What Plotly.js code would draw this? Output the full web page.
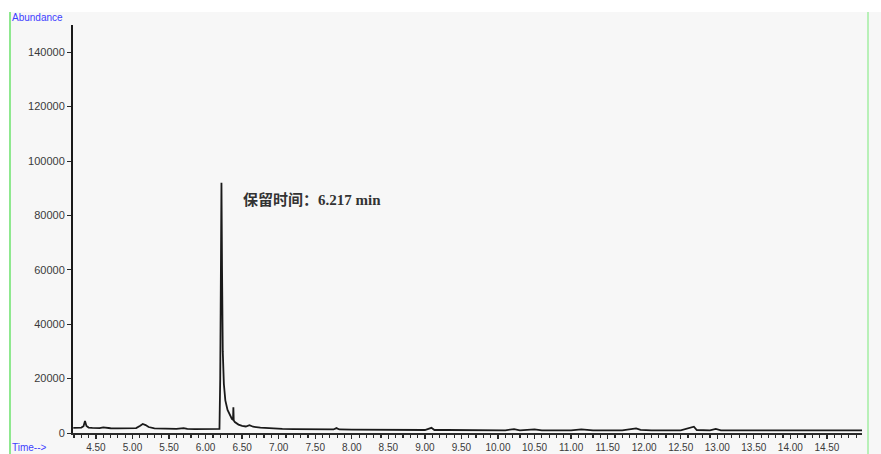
<!DOCTYPE html>
<html>
<head>
<meta charset="utf-8">
<script src="https://cdn.plot.ly/plotly-3.0.1.min.js"></script>
<style>html,body{margin:0;padding:0;background:#fff;}#chart{width:881px;height:454px;}</style>
</head>
<body>
<div id="chart"></div>
<script>
// Retention time (min)
const timeMin = [
  4.19, 4.25, 4.30, 4.33, 4.35, 4.37, 4.40, 4.45, 4.50, 4.55, 4.60, 4.65, 4.70, 4.80, 4.90,
  5.00, 5.05, 5.10, 5.14, 5.18, 5.22, 5.30, 5.40, 5.50, 5.60, 5.70, 5.75, 5.85, 5.95, 6.05,
  6.15, 6.19, 6.20, 6.21, 6.217, 6.225, 6.235, 6.25, 6.27, 6.30, 6.33, 6.36, 6.375, 6.38, 6.385,
  6.40, 6.45, 6.50, 6.55, 6.60, 6.65, 6.75, 6.85, 6.95, 7.05, 7.20, 7.40, 7.60, 7.75, 7.79,
  7.83, 8.00, 8.20, 8.40, 8.60, 8.80, 9.00, 9.09, 9.13, 9.30, 9.50, 9.70, 9.90, 10.10, 10.22,
  10.30, 10.50, 10.60, 10.80, 11.00, 11.14, 11.30, 11.50, 11.70, 11.89, 11.95, 12.10, 12.30, 12.50, 12.68,
  12.72, 12.90, 12.98, 13.05, 13.20, 13.40, 13.60, 13.80, 14.00, 14.20, 14.40, 14.60, 14.80, 14.98
];
// Abundance
const abundance = [
  1900, 1950, 2000, 2500, 4400, 2600, 2000, 1900, 1850, 1800, 2100, 1800, 1750, 1700, 1700,
  1700, 1800, 2600, 3300, 2900, 2200, 1700, 1600, 1550, 1500, 1800, 1500, 1450, 1400, 1400,
  1400, 1500, 20000, 80000, 92000, 60000, 30000, 18000, 12000, 8500, 6500, 5200, 4800, 9500, 4600,
  4000, 3100, 2600, 2400, 2900, 2300, 2000, 1800, 1600, 1500, 1400, 1350, 1300, 1300, 1800,
  1300, 1250, 1200, 1200, 1150, 1150, 1100, 1900, 1100, 1100, 1050, 1050, 1000, 1000, 1400,
  1000, 1300, 1000, 1000, 1000, 1300, 1000, 1000, 1000, 1700, 1150, 1000, 1000, 1000, 2300,
  1100, 1000, 1500, 1000, 1000, 1000, 1000, 1000, 1000, 1000, 1000, 1000, 1000, 1000
];
const yTickVals = [0, 20000, 40000, 60000, 80000, 100000, 120000, 140000];
const yTickText = ["0", "20000", "40000", "60000", "80000", "100000", "120000", "140000"];
const peakLabel = "<b>保留时间：6.217 min</b>";

const trace = {
  x: timeMin, y: abundance, type: 'scatter', mode: 'lines',
  line: {color: '#1a1a1a', width: 1.8}, hoverinfo: 'skip'
};

const pxX = p => (p - 73) / 789;
const pxY = p => (433 - p) / 408;

const layout = {
  width: 881, height: 454,
  margin: {l: 73, r: 19, t: 25, b: 21, pad: 0},
  paper_bgcolor: '#ffffff',
  plot_bgcolor: 'rgba(0,0,0,0)',
  showlegend: false,
  font: {family: 'Liberation Sans, Arial, sans-serif', color: '#3a3a3a'},
  xaxis: {
    range: [4.186, 14.98], showgrid: false, zeroline: false,
    showline: true, linecolor: '#2a2a2a', linewidth: 2,
    ticks: 'outside', ticklen: 4, tickwidth: 1.3, tickcolor: '#2a2a2a',
    tick0: 4.5, dtick: 0.5, tickformat: '.2f',
    tickfont: {size: 10, color: '#3a3a3a'},
    minor: {dtick: 0.1, tick0: 4.5, ticks: 'outside', ticklen: 3, tickwidth: 1.2, tickcolor: '#2a2a2a', showgrid: false}
  },
  yaxis: {
    range: [0, 150000], showgrid: false, zeroline: false,
    showline: true, linecolor: '#1a1a1a', linewidth: 2,
    ticks: 'outside', ticklen: 4, tickwidth: 1, tickcolor: '#2a2a2a',
    tickvals: yTickVals, ticktext: yTickText,
    tickfont: {size: 11, color: '#3a3a3a'}
  },
  shapes: [
    {type: 'rect', xref: 'paper', yref: 'paper', x0: pxX(10), x1: pxX(881), y0: pxY(12), y1: pxY(454),
     fillcolor: '#f7f7f7', line: {width: 0}, layer: 'below'},
    {type: 'line', xref: 'paper', yref: 'paper', x0: pxX(10), x1: pxX(10), y0: pxY(12), y1: pxY(454),
     line: {color: '#8fe88f', width: 2}, layer: 'below'},
    {type: 'line', xref: 'paper', yref: 'paper', x0: pxX(868), x1: pxX(868), y0: pxY(12), y1: pxY(454),
     line: {color: '#b8f0b8', width: 2}, layer: 'below'}
  ],
  annotations: [
    {text: 'Abundance', xref: 'paper', yref: 'paper', x: pxX(10), y: pxY(17), xanchor: 'left', yanchor: 'middle',
     showarrow: false, font: {size: 10, color: '#4040ff', family: 'Liberation Sans, Arial, sans-serif'}},
    {text: 'Time-->', xref: 'paper', yref: 'paper', x: pxX(10), y: pxY(447), xanchor: 'left', yanchor: 'middle',
     showarrow: false, font: {size: 10, color: '#4040ff', family: 'Liberation Sans, Arial, sans-serif'}},
    {text: peakLabel, xref: 'x', yref: 'y', x: 6.49, y: 86000, xanchor: 'left', yanchor: 'middle',
     showarrow: false, font: {size: 15, color: '#333333', family: 'Liberation Serif, Noto Sans CJK SC, serif'}}
  ]
};

Plotly.newPlot('chart', [trace], layout, {staticPlot: true, displayModeBar: false});
</script>
</body>
</html>
